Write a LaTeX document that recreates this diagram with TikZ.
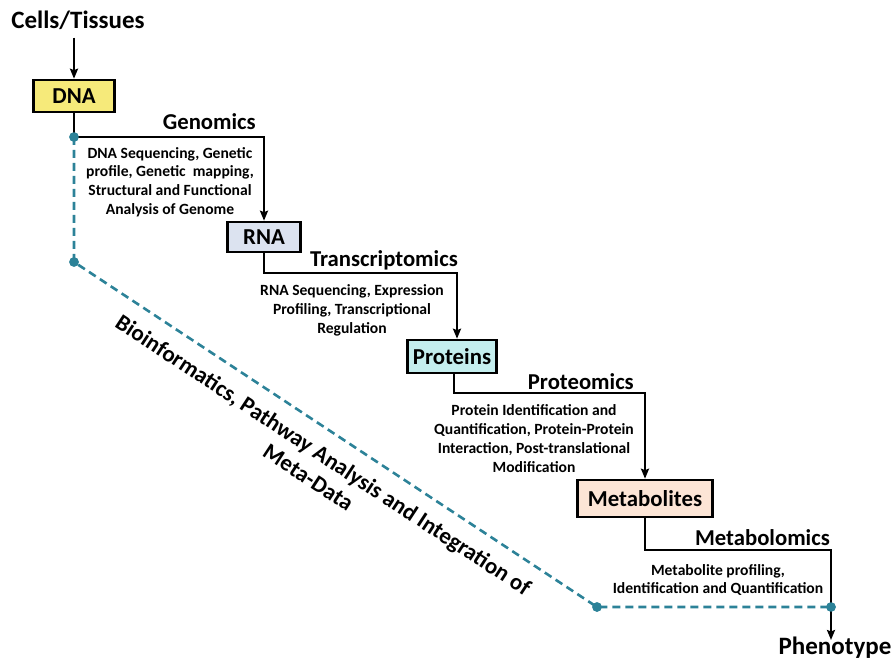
\documentclass[tikz,border=0pt]{standalone}
\usepackage{fontspec}
\setmainfont{Carlito}
\usetikzlibrary{arrows.meta}
\definecolor{tealdash}{RGB}{44,130,152}
\definecolor{dnafill}{RGB}{246,234,122}
\definecolor{rnafill}{RGB}{220,227,240}
\definecolor{protfill}{RGB}{196,238,238}
\definecolor{metfill}{RGB}{252,229,214}
\tikzset{
  stagebox/.style={draw=black, line width=2.6pt, inner sep=0pt, font=\bfseries\fontsize{22.8}{26}\selectfont},
  omic/.style={font=\bfseries\fontsize{22.7}{26}\selectfont, inner sep=0pt, anchor=base east},
  desc/.style={font=\bfseries\fontsize{15.6}{18.8}\selectfont, align=center, inner sep=0pt},
  flow/.style={line width=2.8pt, black},
  flowarrow/.style={flow, -{Stealth[length=10pt,width=8pt,inset=1.5pt]}},
  bioline/.style={tealdash, line width=2.6pt, dash pattern=on 8pt off 5pt},
  biodot/.style={circle, fill=tealdash, inner sep=0pt, minimum size=9.5pt},
  bigtext/.style={font=\bfseries\fontsize{25}{28}\selectfont, inner sep=0pt}
}
\begin{document}
\begin{tikzpicture}[x=1pt,y=-1pt]
\useasboundingbox (0,0) rectangle (892,663);
% nodes
\node[bigtext] (cells) at (78,20) {Cells/Tissues};
\node[stagebox, fill=dnafill, minimum width=81pt, minimum height=32pt] (dna) at (74,96) {DNA};
\node[stagebox, fill=rnafill, minimum width=73pt, minimum height=30pt] (rna) at (264,237) {RNA};
\node[stagebox, fill=protfill, minimum width=89pt, minimum height=33pt] (prot) at (452,356.5) {Proteins};
\node[stagebox, fill=metfill, minimum width=135pt, minimum height=37pt] (met) at (645,498.5) {Metabolites};
\node[bigtext, anchor=north] (phen) at (835,637) {Phenotype};

% dots
\node[biodot] (d1) at (74,137) {};
\node[biodot] (d2) at (74,262) {};
\node[biodot] (d3) at (597,607) {};
\node[biodot] (d4) at (831,607) {};
\coordinate (c1) at (264,137);
\coordinate (c2) at (264,273);
\coordinate (c3) at (454,393);
\coordinate (c4) at (645,550);
\coordinate (c5) at (831,550);
\coordinate (pend) at (831,640);
\path (cells.south -| dna.north) ++(0,8) coordinate (cs);

% dashed path
\draw[bioline] (d1.center) -- (d2.center) -- (d3.center) -- (d4.center);
\node[biodot] at (d2) {};
\node[biodot] at (d3) {};

% flow
\draw[flowarrow] (cs) -- (dna.north);
\draw[flowarrow] (dna.south) -- (d1.center) -- (c1) -- (rna.north);
\draw[flowarrow] (rna.south) -- (c2) -| ([xshift=5pt]prot.north);
\draw[flowarrow] (prot.south -| c3) -- (c3) -| (met.north);
\draw[flowarrow] (met.south) -- (c4) -- (c5) -- (pend);
\node[biodot] at (d1) {};
\node[biodot] at (d4) {};

% labels
\node[omic] (gen) at (256,130) {Genomics};
\node[desc] (gend) at (170,182) {DNA Sequencing, Genetic\\profile, Genetic\ \ mapping,\\Structural and Functional\\Analysis of Genome};
\node[omic] (tra) at (458,266) {Transcriptomics};
\node[desc] (trad) at (352,310.5) {RNA Sequencing, Expression\\Profiling, Transcriptional\\Regulation};
\node[omic] (pro) at (634,389) {Proteomics};
\node[desc] (prod) at (534,438.5) {Protein Identification and\\Quantification, Protein-Protein\\Interaction, Post-translational\\Modification};
\node[omic] (mtb) at (830,545) {Metabolomics};
\node[desc] (mtbd) at (718,580) {Metabolite profiling,\\Identification and Quantification};

\node[font=\bfseries\fontsize{23}{27}\selectfont, align=center, inner sep=0pt, rotate=-33.3] (bio) at (316,466) {Bioinformatics, Pathway Analysis and Integration of\\Meta-Data};
\end{tikzpicture}
\end{document}
